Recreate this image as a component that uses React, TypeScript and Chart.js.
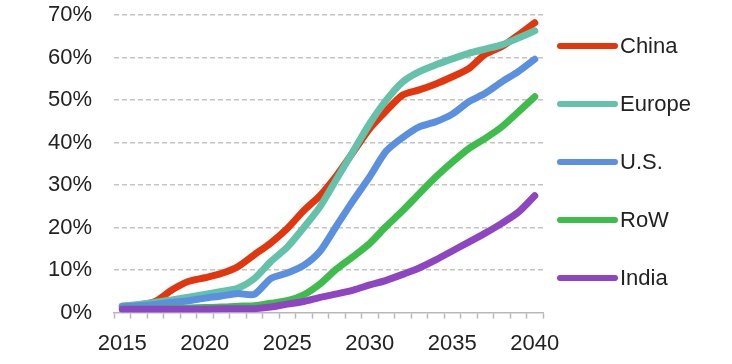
import React, { useEffect, useRef } from "react";
import { Chart, registerables } from "chart.js";

Chart.register(...registerables);

const years: string[] = [
  "2015", "2016", "2017", "2018", "2019", "2020", "2021", "2022", "2023", "2024",
  "2025", "2026", "2027", "2028", "2029", "2030", "2031", "2032", "2033", "2034",
  "2035", "2036", "2037", "2038", "2039", "2040",
];

const seriesNames: string[] = ["China", "Europe", "U.S.", "RoW", "India"];
const seriesColors: string[] = ["#e2360f", "#63c2a9", "#5b8fe0", "#3fbd4c", "#8e45c2"];

const china: number[] = [1.5, 1.8, 2.6, 5.3, 7.3, 8.2, 9.2, 10.8, 13.6, 16.4, 19.8, 24, 27.6, 32.3, 37.8, 43.3, 47.5, 51.2, 52.4, 53.8, 55.5, 57.4, 60.8, 62.6, 65.3, 68.2];
const europe: number[] = [1.5, 1.9, 2.4, 3, 3.6, 4.3, 5, 5.7, 8, 12, 15.4, 20, 25, 31.5, 38, 44.5, 50, 54.3, 56.7, 58.3, 59.7, 61, 62, 63, 64.6, 66.3];
const us: number[] = [1.4, 1.6, 1.9, 2.4, 2.8, 3.4, 3.9, 4.5, 4.3, 8, 9.3, 11.1, 14.5, 20.5, 26.4, 32, 38, 41.2, 43.7, 44.9, 46.7, 49.6, 51.6, 54.3, 56.7, 59.6];
const row: number[] = [0.9, 0.9, 0.9, 1, 1.1, 1.2, 1.3, 1.5, 1.6, 2.2, 2.8, 4.2, 6.8, 10.3, 13.2, 16.3, 20.3, 24, 28, 31.9, 35.4, 38.6, 41, 43.7, 47.2, 50.8];
const india: number[] = [0.8, 0.8, 0.8, 0.8, 0.8, 0.8, 0.9, 0.9, 0.9, 1.3, 2, 2.6, 3.6, 4.4, 5.3, 6.5, 7.6, 9, 10.5, 12.4, 14.5, 16.6, 18.7, 21, 23.6, 27.5];

const seriesValues: number[][] = [china, europe, us, row, india];
const yTicks: number[] = [0, 10, 20, 30, 40, 50, 60, 70];

const FONT = "'Liberation Sans', Arial, Helvetica, sans-serif";
const TEXT = "#222222";

const sideLegend = {
  id: "sideLegend",
  afterDraw(chart: any) {
    const { ctx, chartArea } = chart;
    const ds = chart.data.datasets;
    ctx.save();
    ctx.font = `22px ${FONT}`;
    ctx.textBaseline = "middle";
    ctx.textAlign = "left";
    ds.forEach((d: any, i: number) => {
      const y = chartArea.top + 31 + i * 58;
      const x0 = chartArea.right + 17;
      const x1 = x0 + 55;
      ctx.beginPath();
      ctx.strokeStyle = d.borderColor;
      ctx.lineWidth = 6;
      ctx.lineCap = "round";
      ctx.moveTo(x0, y);
      ctx.lineTo(x1, y);
      ctx.stroke();
      ctx.fillStyle = TEXT;
      ctx.fillText(d.label, x1 + 5, y + 1);
    });
    ctx.restore();
  },
};

export default function App() {
  const ref = useRef<HTMLCanvasElement | null>(null);

  useEffect(() => {
    if (!ref.current) return;
    Chart.defaults.font.family = FONT;
    const chart = new Chart(ref.current, {
      type: "line",
      data: {
        labels: years,
        datasets: seriesNames.map((name, i) => ({
          label: name,
          data: seriesValues[i],
          borderColor: seriesColors[i],
          backgroundColor: seriesColors[i],
          borderWidth: 7,
          borderCapStyle: "round" as const,
          borderJoinStyle: "round" as const,
          pointRadius: 0,
          tension: 0.25,
          fill: false,
          order: seriesNames.length - i,
        })),
      },
      options: {
        animation: false,
        responsive: true,
        maintainAspectRatio: false,
        layout: { padding: { left: 45, right: 189, top: 0, bottom: -5 } },
        plugins: {
          legend: { display: false },
          tooltip: { enabled: false },
        },
        scales: {
          x: {
            type: "category",
            offset: true,
            grid: {
              display: true,
              drawOnChartArea: false,
              drawTicks: true,
              tickLength: 6,
              tickColor: "#b8b8b8",
              tickWidth: 1.5,
              offset: true,
            },
            border: { display: true, color: "#b8b8b8", width: 1.5 },
            ticks: {
              autoSkip: false,
              maxRotation: 0,
              minRotation: 0,
              padding: 12,
              color: TEXT,
              font: { size: 22, family: FONT },
              callback: function (_v: any, idx: number) {
                const lab = years[idx];
                return Number(lab) % 5 === 0 ? lab : "";
              },
            },
          },
          y: {
            min: 0,
            max: 70,
            afterBuildTicks: (axis: any) => {
              axis.ticks = yTicks.map((v) => ({ value: v }));
            },
            grid: {
              display: true,
              drawTicks: true,
              tickLength: 19,
              tickColor: "rgba(0,0,0,0)",
              color: (c: any) => (c.tick && c.tick.value === 0 ? "rgba(0,0,0,0)" : "#c4c4c4"),
              lineWidth: 1.5,
            },
            border: { display: false, dash: [5, 3] },
            ticks: {
              padding: 3,
              color: TEXT,
              font: { size: 22, family: FONT, lineHeight: 1.1 },
              callback: (v: any) => `${v}%`,
            },
          },
        },
      },
      plugins: [sideLegend],
    });
    return () => chart.destroy();
  }, []);

  return (
    <div style={{ position: "absolute", left: 0, top: 0, width: 732, height: 364 }}>
      <canvas ref={ref} />
    </div>
  );
}
